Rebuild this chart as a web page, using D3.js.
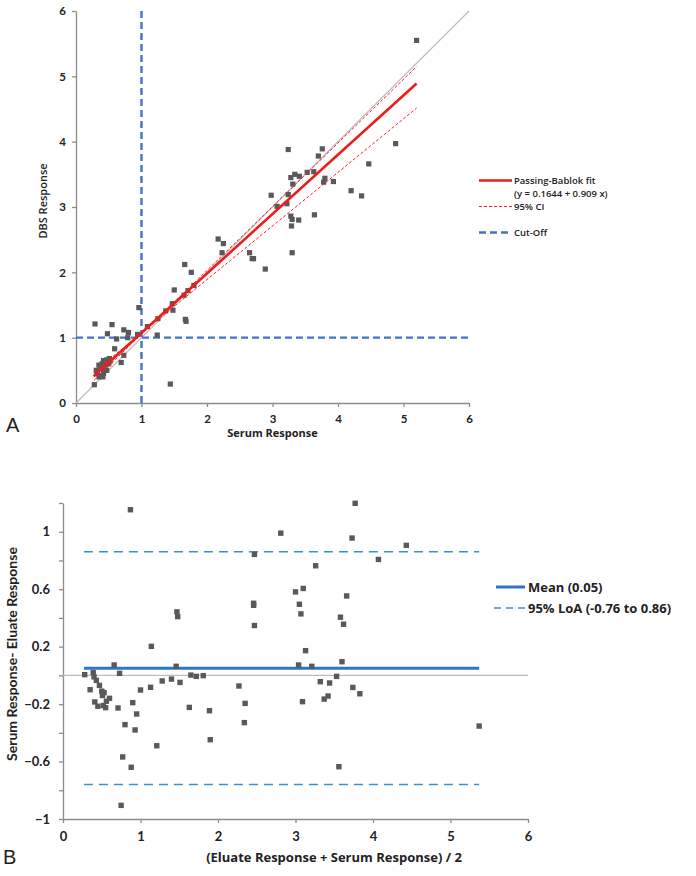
<!DOCTYPE html>
<html>
<head>
<meta charset="utf-8">
<script src="https://cdn.jsdelivr.net/npm/d3@7"></script>
<style>
  body { margin: 0; background: #fff; }
  svg { font-family: Lato, "Open Sans", sans-serif; }
  svg text { fill: #222; }
</style>
</head>
<body>
<div id="chart"></div>
<script>
// Panel A: serum vs DBS response
const serumA = [0.28, 1.44, 0.31, 0.35, 0.40, 0.42, 0.47, 0.37, 0.41, 0.45, 0.50, 0.32, 0.36, 0.42, 0.47, 0.51, 0.35, 0.41, 0.52,
  0.59, 0.73, 0.69, 0.29, 0.55, 0.73, 0.80, 0.48, 0.62, 0.79, 0.94, 0.96, 1.09, 1.24, 1.25, 1.37, 1.48, 1.47, 1.50, 1.65, 1.71,
  1.80, 1.76, 1.66, 1.67, 1.68, 2.17, 2.25, 2.23, 2.65, 2.69, 2.71, 2.89, 3.07, 3.22, 3.28, 3.30, 3.29, 3.40, 3.64, 3.30, 2.98,
  3.24, 3.31, 3.28, 3.34, 3.41, 3.53, 3.63, 3.70, 3.76, 3.24, 3.80, 3.78, 3.93, 4.20, 4.36, 4.47, 4.88, 5.20];
const dbsA = [0.28, 0.29, 0.50, 0.58, 0.60, 0.65, 0.66, 0.55, 0.53, 0.58, 0.60, 0.45, 0.42, 0.45, 0.50, 0.68, 0.40, 0.40, 0.64,
  0.83, 0.73, 0.62, 1.21, 1.20, 1.12, 1.08, 1.06, 0.98, 1.00, 1.05, 1.46, 1.17, 1.04, 1.29, 1.41, 1.42, 1.52, 1.73, 1.65, 1.72,
  1.80, 2.00, 2.12, 1.28, 1.25, 2.51, 2.44, 2.30, 2.30, 2.21, 2.21, 2.05, 3.01, 3.05, 2.86, 2.81, 2.71, 2.80, 2.88, 2.30, 3.18,
  3.19, 3.35, 3.45, 3.50, 3.47, 3.53, 3.54, 3.78, 3.89, 3.88, 3.44, 3.38, 3.39, 3.25, 3.17, 3.66, 3.97, 5.55];

const fitRange = [0.27, 5.2];
const fitCoef = [0.1644, 0.909];
const ciLowCoef = [0.08, 0.975];
const ciHighCoef = [0.25, 0.82];
const cutOff = 1;
const ticksA = [0, 1, 2, 3, 4, 5, 6];

// Panel B: Bland-Altman
const meanB = [0.87, 3.77, 2.81, 3.73, 4.43, 2.47, 4.07, 3.26, 3.10, 3.00, 3.66, 2.46, 2.46, 3.05, 1.47, 1.48, 3.07, 3.58, 2.47,
  3.62, 1.14, 3.13, 3.60, 0.66, 0.73, 0.71, 0.90, 1.00, 0.95, 0.80, 0.93, 0.77, 0.88, 0.75, 1.13, 1.21, 1.28, 1.40, 1.46, 1.51,
  1.63, 1.65, 1.72, 1.81, 1.89, 1.90, 2.27, 2.35, 2.34, 3.04, 3.21, 3.09, 3.32, 3.37, 3.42, 3.44, 3.53, 3.56, 3.74, 3.83, 5.37,
  0.28, 0.39, 0.40, 0.43, 0.35, 0.47, 0.50, 0.51, 0.53, 0.41, 0.45, 0.52, 0.56, 0.55, 0.60];
const diffB = [1.153, 1.198, 0.99, 0.956, 0.905, 0.842, 0.807, 0.763, 0.605, 0.581, 0.553, 0.502, 0.488, 0.495, 0.442, 0.409, 0.428, 0.405, 0.347,
  0.356, 0.202, 0.172, 0.095, 0.072, 0.014, -0.227, -0.19, -0.102, -0.269, -0.343, -0.38, -0.568, -0.64, -0.905, -0.083, -0.49, -0.039, -0.026, 0.063, -0.049,
  -0.223, 0.002, -0.007, -0.002, -0.246, -0.448, -0.074, -0.195, -0.329, 0.072, 0.063, -0.183, -0.044, -0.165, -0.144, -0.053, -0.007, -0.636, -0.084, -0.128, -0.353,
  0.005, 0.02, -0.01, -0.035, -0.1, -0.07, -0.11, -0.14, -0.12, -0.185, -0.215, -0.21, -0.18, -0.225, -0.16];
const meanDiff = 0.05;
const loa = [-0.76, 0.86];
const lineRangeB = [0.27, 5.37];
const ticksBx = [0, 1, 2, 3, 4, 5, 6];
const ticksBy = [-1, -0.8, -0.6, -0.4, -0.2, 0, 0.2, 0.4, 0.6, 0.8, 1, 1.2];
const labelsBy = [-1, -0.6, -0.2, 0.2, 0.6, 1];

const width = 696, height = 876;
const svg = d3.select('#chart').append('svg')
  .attr('width', width)
  .attr('height', height);

const axisColor = '#8c8c8c';
const pointColor = '#595959';
const openSans = '"Open Sans", Lato, sans-serif';

function styleAxis(g, fs) {
  g.attr('font-family', 'Lato, sans-serif');
  g.select('.domain').attr('stroke', axisColor).attr('stroke-width', 1.3);
  g.selectAll('.tick line').attr('stroke', axisColor).attr('stroke-width', 1.3);
  g.selectAll('.tick text').attr('font-size', fs).attr('font-weight', 700).attr('fill', '#222');
}

// ---------- Panel A ----------
const xA = d3.scaleLinear().domain([0, 6]).range([76, 469]);
const yA = d3.scaleLinear().domain([0, 6]).range([403, 11]);
const gA = svg.append('g');

gA.append('g').attr('transform', 'translate(0,403)')
  .call(d3.axisBottom(xA).tickValues(ticksA).tickSize(4).tickSizeOuter(0).tickPadding(8).tickFormat(d3.format('d')))
  .call(g => styleAxis(g, 11.5));
gA.append('g').attr('transform', 'translate(76,0)')
  .call(d3.axisLeft(yA).tickValues(ticksA).tickSize(4).tickSizeOuter(0).tickPadding(6).tickFormat(d3.format('d')))
  .call(g => styleAxis(g, 11.5));

// identity line
gA.append('line')
  .attr('x1', xA(0)).attr('y1', yA(0)).attr('x2', xA(6)).attr('y2', yA(6))
  .attr('stroke', '#bdbdbd').attr('stroke-width', 1.2);

// cut-off lines
gA.append('line')
  .attr('x1', xA(cutOff)).attr('y1', yA(0)).attr('x2', xA(cutOff)).attr('y2', yA(6))
  .attr('stroke', '#4472c4').attr('stroke-width', 2.4).attr('stroke-dasharray', '7,4');
gA.append('line')
  .attr('x1', xA(0)).attr('y1', yA(cutOff)).attr('x2', xA(6)).attr('y2', yA(cutOff))
  .attr('stroke', '#4472c4').attr('stroke-width', 2.4).attr('stroke-dasharray', '7,4');

// points
gA.append('g').selectAll('rect')
  .data(serumA.map((d, i) => [d, dbsA[i]]))
  .enter().append('rect')
  .attr('x', d => xA(d[0]) - 2.6)
  .attr('y', d => yA(d[1]) - 2.6)
  .attr('width', 5.2).attr('height', 5.2)
  .attr('fill', pointColor);

// fit and CI lines
const lineA = d3.line().x(d => xA(d[0])).y(d => yA(d[1]));
function coefLine(c) { return fitRange.map(x => [x, c[0] + c[1] * x]); }
gA.append('path').attr('d', lineA(coefLine(ciLowCoef)))
  .attr('fill', 'none').attr('stroke', '#ff2020').attr('stroke-width', 1).attr('stroke-dasharray', '3,2');
gA.append('path').attr('d', lineA(coefLine(ciHighCoef)))
  .attr('fill', 'none').attr('stroke', '#ff2020').attr('stroke-width', 1).attr('stroke-dasharray', '3,2');
gA.append('path').attr('d', lineA(coefLine(fitCoef)))
  .attr('fill', 'none').attr('stroke', '#ee1c1c').attr('stroke-width', 2.6);

// titles
gA.append('text')
  .attr('transform', 'translate(47,201) rotate(-90)')
  .attr('text-anchor', 'middle').attr('font-size', 11).attr('font-weight', 600)
  .attr('font-family', openSans)
  .text('DBS Response');
gA.append('text')
  .attr('x', xA(3)).attr('y', 437)
  .attr('text-anchor', 'middle').attr('font-size', 11).attr('font-weight', 700)
  .attr('font-family', openSans)
  .text('Serum Response');
svg.append('text')
  .attr('x', 6).attr('y', 432)
  .attr('font-family', '"Liberation Sans", Arial, sans-serif')
  .attr('font-size', 20)
  .text('A');

// legend A
const legA = svg.append('g').attr('font-size', 9.5).attr('font-weight', 600).attr('font-family', openSans);
legA.append('line').attr('x1', 479).attr('x2', 512).attr('y1', 180.5).attr('y2', 180.5)
  .attr('stroke', '#ee1c1c').attr('stroke-width', 2.6);
legA.append('text').attr('x', 514).attr('y', 184).text('Passing-Bablok fit');
legA.append('text').attr('x', 514).attr('y', 197).text('(y = 0.1644 + 0.909 x)');
legA.append('line').attr('x1', 479).attr('x2', 512).attr('y1', 206.5).attr('y2', 206.5)
  .attr('stroke', '#ff2020').attr('stroke-width', 1).attr('stroke-dasharray', '3,2');
legA.append('text').attr('x', 514).attr('y', 210).text('95% CI');
legA.append('line').attr('x1', 479).attr('x2', 512).attr('y1', 232.5).attr('y2', 232.5)
  .attr('stroke', '#4472c4').attr('stroke-width', 2.4).attr('stroke-dasharray', '7,4');
legA.append('text').attr('x', 514).attr('y', 236).text('Cut-Off');

// ---------- Panel B ----------
const xB = d3.scaleLinear().domain([0, 6]).range([63, 528]);
const yB = d3.scaleLinear().domain([-1, 1.2]).range([819, 503]);
const gB = svg.append('g');

gB.append('g').attr('transform', 'translate(0,819)')
  .call(d3.axisBottom(xB).tickValues(ticksBx).tickSize(4).tickSizeOuter(0).tickPadding(9).tickFormat(d3.format('d')))
  .call(g => styleAxis(g, 13));
gB.append('g').attr('transform', 'translate(63,0)')
  .call(d3.axisLeft(yB).tickValues(ticksBy).tickSize(4).tickSizeOuter(0).tickPadding(9)
    .tickFormat(d => labelsBy.some(v => Math.abs(v - d) < 1e-9) ? d3.format('~g')(d) : ''))
  .call(g => styleAxis(g, 13));

// zero line
gB.append('line')
  .attr('x1', xB(0)).attr('x2', xB(6)).attr('y1', yB(0)).attr('y2', yB(0))
  .attr('stroke', '#bdbdbd').attr('stroke-width', 1.2);
// mean line
gB.append('line')
  .attr('x1', xB(lineRangeB[0])).attr('x2', xB(lineRangeB[1])).attr('y1', yB(meanDiff)).attr('y2', yB(meanDiff))
  .attr('stroke', '#2e75c6').attr('stroke-width', 3);
// limits of agreement
gB.append('g').selectAll('line')
  .data(loa).enter().append('line')
  .attr('x1', xB(lineRangeB[0])).attr('x2', xB(lineRangeB[1]))
  .attr('y1', d => yB(d)).attr('y2', d => yB(d))
  .attr('stroke', '#3a8fdb').attr('stroke-width', 1.5).attr('stroke-dasharray', '9,6');

gB.append('g').selectAll('rect')
  .data(meanB.map((d, i) => [d, diffB[i]]))
  .enter().append('rect')
  .attr('x', d => xB(d[0]) - 2.7)
  .attr('y', d => yB(d[1]) - 2.7)
  .attr('width', 5.4).attr('height', 5.4)
  .attr('fill', pointColor);

gB.append('text')
  .attr('transform', 'translate(17,654) rotate(-90)')
  .attr('text-anchor', 'middle').attr('font-size', 14).attr('font-weight', 700)
  .text('Serum Response- Eluate Response');
gB.append('text')
  .attr('x', 334).attr('y', 862)
  .attr('text-anchor', 'middle').attr('font-size', 13).attr('font-weight', 700)
  .attr('font-family', openSans)
  .text('(Eluate Response + Serum Response) / 2');
svg.append('text')
  .attr('x', 3).attr('y', 864)
  .attr('font-family', '"Liberation Sans", Arial, sans-serif')
  .attr('font-size', 20)
  .text('B');

// legend B
const legB = svg.append('g').attr('font-size', 13).attr('font-weight', 700).attr('font-family', openSans);
legB.append('line').attr('x1', 496).attr('x2', 525).attr('y1', 587).attr('y2', 587)
  .attr('stroke', '#2e75c6').attr('stroke-width', 3);
legB.append('text').attr('x', 528).attr('y', 591.5).text('Mean (0.05)');
legB.append('line').attr('x1', 494).attr('x2', 525).attr('y1', 608).attr('y2', 608)
  .attr('stroke', '#3a8fdb').attr('stroke-width', 1.5).attr('stroke-dasharray', '7,5');
legB.append('text').attr('x', 528).attr('y', 612.5).text('95% LoA (-0.76 to 0.86)');
</script>
</body>
</html>
